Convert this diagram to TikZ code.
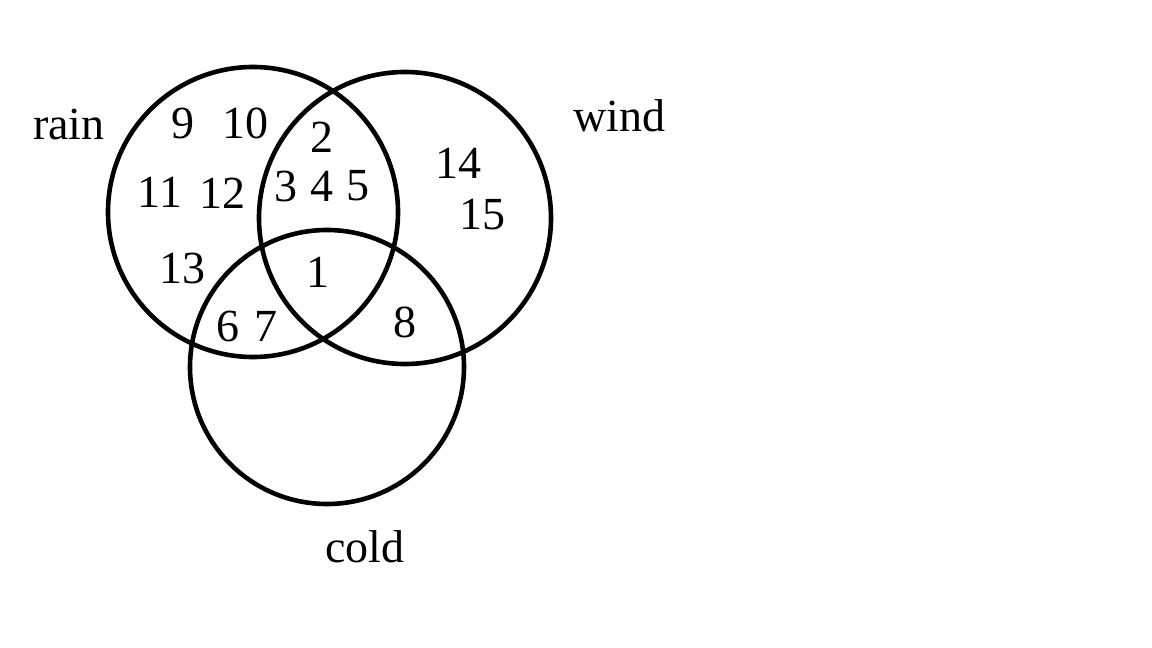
\documentclass[tikz,border=0pt]{standalone}
\usepackage{fontspec}
\setmainfont{Liberation Serif}
\begin{document}
\begin{tikzpicture}[x=1pt,y=-1pt,
  ring/.style={draw=black,line width=4.6pt},
  lbl/.style={inner sep=0pt,font=\fontsize{46}{50}\selectfont}]
\useasboundingbox (0,0) rectangle (1152,648);
\fill[white] (0,0) rectangle (1152,648);
\node[ring,circle,minimum size=290pt,inner sep=0pt] (rainc) at (253,212) {};
\node[ring,circle,minimum size=292pt,inner sep=0pt] (windc) at (405,218) {};
\node[ring,circle,minimum size=274pt,inner sep=0pt] (coldc) at (327,367) {};
\node[lbl] (rain) at (69,124) {rain};
\node[lbl] (wind) at (619,116) {wind};
\node[lbl] (cold) at (365,547) {cold};
\node[lbl] (n9) at (183,123) {9};
\node[lbl] (n10) at (245,123) {10};
\node[lbl] (n2) at (322,137) {2};
\node[lbl] (n3) at (286,186) {3};
\node[lbl] (n4) at (322,186) {4};
\node[lbl] (n5) at (358,186) {5};
\node[lbl] (n11) at (160,192) {11};
\node[lbl] (n12) at (222,193) {12};
\node[lbl] (n13) at (182,268) {13};
\node[lbl] (n1) at (318,272) {1};
\node[lbl] (n6) at (228,326) {6};
\node[lbl] (n7) at (266,326) {7};
\node[lbl] (n8) at (405,322) {8};
\node[lbl] (n14) at (458,163) {14};
\node[lbl] (n15) at (482,215) {15};
\end{tikzpicture}
\end{document}
